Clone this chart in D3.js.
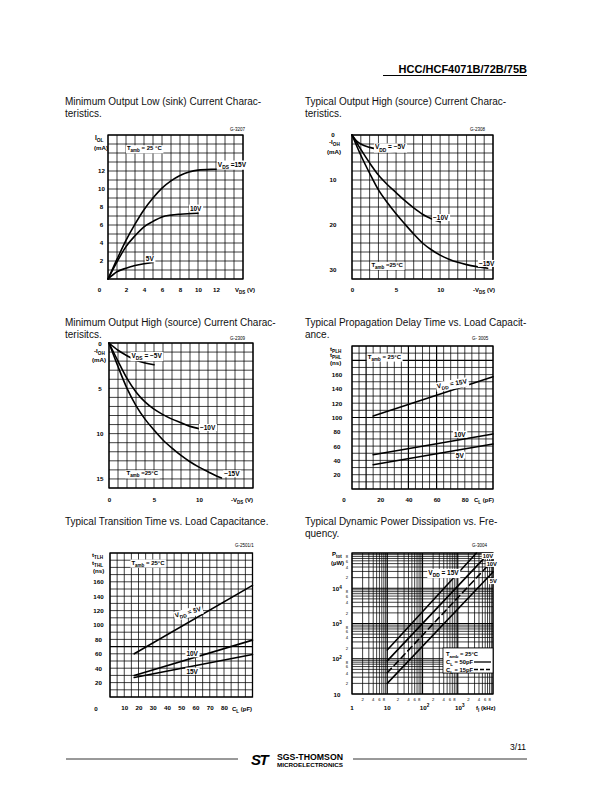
<!DOCTYPE html>
<html><head><meta charset="utf-8">
<script src="https://cdn.jsdelivr.net/npm/d3@7"></script>
<style>body{margin:0;background:#fff} svg{display:block}</style>
</head><body><svg id="page" width="612" height="792"></svg>
<script>
// ---------- DATA ----------
// Chart 1: Minimum output low (sink) current, IOL (mA) vs VDS (V)
const c1XTicks = [2, 4, 6, 8, 10, 12];
const c1YTicks = [2, 4, 6, 8, 10, 12];
const iol15V = [[0,0],[1,2.2],[2,4.3],[3,6.1],[4,7.7],[5,9.0],[6,10.1],[7,10.9],[8,11.5],[9,11.9],[10,12.1],[12,12.2],[15,12.3]];
const iol10V = [[0,0],[1,1.9],[2,3.6],[3,4.8],[4,5.8],[5,6.4],[6,6.9],[7,7.1],[8,7.2],[10,7.3]];
const iol5V  = [[0,0],[1,0.8],[2,1.2],[3,1.5],[4,1.7],[5,1.85]];

// Chart 2: Typical output high (source) current, -IOH (mA) vs -VDS (V)
const c2XTicks = [0, 5, 10];
const c2YTicks = [10, 20, 30];
const tioh5V  = [[0,0],[0.5,1.3],[1,2.0],[2,2.75],[3,3.2],[4,3.55],[5,3.8]];
const tioh10V = [[0,0],[1,3.2],[2,6.2],[3,8.9],[4,11],[5,12.8],[6,14.6],[7,16.2],[8,17.6],[9,18.6],[10,19.3]];
const tioh15V = [[0,0],[1,4.5],[2,8.5],[3,12.2],[4,15],[5,17.5],[6,19.8],[7,22],[8,24],[9,25.5],[10,26.7],[11,27.6],[12,28.3],[13,28.8],[14,29.2],[15.4,29.6]];

// Chart 3: Minimum output high (source) current, -IOH (mA) vs -VDS (V)
const c3XTicks = [0, 5, 10];
const c3YTicks = [5, 10, 15];
const mioh5V  = [[0,0],[1,0.8],[2,1.4],[3,1.9],[4,2.2],[5,2.4]];
const mioh10V = [[0,0],[1,2.0],[2,3.9],[3,5.4],[4,6.5],[5,7.3],[6,7.9],[7,8.4],[8,8.8],[9,9.2],[10,9.45]];
const mioh15V = [[0,0],[1,2.6],[2,5.0],[3,6.9],[4,8.4],[5,9.6],[6,10.7],[7,11.6],[8,12.4],[9,13.1],[10,13.7],[11,14.2],[12,14.7],[12.5,14.9]];

// Chart 4: Propagation delay tPLH/tPHL (ns) vs CL (pF)
const c4XTicks = [20, 40, 60, 80];
const c4YTicks = [20, 40, 60, 80, 100, 120, 140, 160];
const tpd15V = [[15,102],[100,157]];
const tpd10V = [[15,48],[100,77]];
const tpd5V  = [[15,34],[100,63]];

// Chart 5: Transition time tTLH/tTHL (ns) vs CL (pF)
const c5XTicks = [10, 20, 30, 40, 50, 60, 70, 80];
const c5YTicks = [20, 40, 60, 80, 100, 120, 140, 160];
const ttr5V  = [[17,60],[100,155]];
const ttr10V = [[17,30],[100,79]];
const ttr15V = [[17,27],[100,59]];

// Chart 6: Dynamic power dissipation Ptot (uW) vs fI (kHz), log-log
const c6XMajor = [1, 10, 100, 1000];
const c6XMajorLabels = ["1", "10", "10^{2}", "10^{3}"];
const c6YMajor = [10, 100, 1000, 10000];
const c6YMajorLabels = ["10", "10^{2}", "10^{3}", "10^{4}"];
const c6Minor = [2, 4, 6, 8];
const ptot15V50 = [[10,178],[3400,100000]];
const ptot10V50 = [[10,87],[6760,87000]];
const ptot15V15 = [[10,40],[8100,50000]];
const ptot5V50  = [[10,20],[10000,29000]];

// ---------- DRAWING ----------
const FONT = "'Liberation Sans', Arial, Helvetica, sans-serif";
const svg = d3.select("#page");

function rich(g, x, y, str, o = {}) {
  const size = o.size || 6.5;
  const t = g.append("text").attr("x", x).attr("y", y)
    .attr("font-size", size).attr("font-family", FONT)
    .attr("font-weight", o.weight || "bold")
    .attr("text-anchor", o.anchor || "start").attr("fill", "#000");
  if (o.rotate) t.attr("transform", `rotate(${o.rotate} ${x} ${y})`);
  const parts = str.split(/(_\{[^}]*\}|\^\{[^}]*\})/).filter(s => s.length);
  let shift = 0;
  parts.forEach(p => {
    let cls = 0, txt = p;
    if (p.startsWith("_{")) { cls = 1; txt = p.slice(2, -1); }
    else if (p.startsWith("^{")) { cls = -1; txt = p.slice(2, -1); }
    const target = cls * size * 0.35;
    const ts = t.append("tspan").attr("dy", (target - shift).toFixed(2)).text(txt);
    if (cls) ts.attr("font-size", size * 0.75);
    shift = target;
  });
  if (o.bg) {
    const b = t.node().getBBox();
    const r = g.insert("rect", () => t.node())
      .attr("x", b.x - 1).attr("y", b.y).attr("width", b.width + 2).attr("height", b.height)
      .attr("fill", "#fff");
    if (o.rotate) r.attr("transform", `rotate(${o.rotate} ${x} ${y})`);
  }
  return t;
}

function gridFrame(g, x, y, xs, ys, heavyX = [], heavyY = []) {
  const [x0, x1] = x.range(), [ya, yb] = y.range();
  const gl = g.append("g").attr("stroke", "#000").attr("fill", "none");
  gl.selectAll(".vx").data(xs).join("line")
    .attr("x1", d => x(d)).attr("x2", d => x(d)).attr("y1", ya).attr("y2", yb)
    .attr("stroke-width", d => heavyX.includes(d) ? 1.2 : 0.75);
  gl.selectAll(".hy").data(ys).join("line")
    .attr("y1", d => y(d)).attr("y2", d => y(d)).attr("x1", x0).attr("x2", x1)
    .attr("stroke-width", d => heavyY.includes(d) ? 1.2 : 0.75);
  g.append("rect").attr("x", Math.min(x0, x1)).attr("y", Math.min(ya, yb))
    .attr("width", Math.abs(x1 - x0)).attr("height", Math.abs(yb - ya))
    .attr("fill", "none").attr("stroke", "#000").attr("stroke-width", 1.3);
}

function curve(g, x, y, data, dash, smooth = true) {
  const line = d3.line().x(d => x(d[0])).y(d => y(d[1]))
    .curve(smooth ? d3.curveMonotoneX : d3.curveLinear);
  const p = g.append("path").datum(data).attr("d", line)
    .attr("fill", "none").attr("stroke", "#000").attr("stroke-width", 1.6)
    .attr("stroke-linecap", "round");
  if (dash) p.attr("stroke-dasharray", dash);
}

function yLabels(g, y, ticks, xPos, fmt = d => d) {
  const ax = d3.axisLeft(y).tickValues(ticks).tickSize(0).tickPadding(0).tickFormat(fmt);
  const a = g.append("g").attr("transform", `translate(${xPos},0)`).call(ax);
  a.select(".domain").remove();
  a.selectAll("text").attr("text-anchor", "middle").attr("font-size", 6.2)
    .attr("font-weight", "bold").attr("font-family", FONT).attr("x", 0);
}
function xLabels(g, x, ticks, yPos, fmt = d => d) {
  const ax = d3.axisBottom(x).tickValues(ticks).tickSize(0).tickPadding(0).tickFormat(fmt);
  const a = g.append("g").attr("transform", `translate(0,${yPos})`).call(ax);
  a.select(".domain").remove();
  a.selectAll("text").attr("font-size", 6.2).attr("font-weight", "bold")
    .attr("font-family", FONT).attr("dy", "0.35em").attr("y", 0);
}

function title(x, y, lines) {
  lines.forEach((l, i) => svg.append("text").attr("x", x).attr("y", y + i * 12)
    .attr("font-family", FONT).attr("font-size", 10).attr("fill", "#111").text(l));
}

// Header
svg.append("text").attr("x", 527).attr("y", 72.5).attr("text-anchor", "end")
  .attr("font-family", FONT).attr("font-weight", "bold").attr("font-size", 11)
  .text("HCC/HCF4071B/72B/75B");
svg.append("line").attr("x1", 383).attr("x2", 527).attr("y1", 75.5).attr("y2", 75.5)
  .attr("stroke", "#000").attr("stroke-width", 1.2);

// Titles
title(65, 105, ["Minimum Output Low (sink) Current Charac-", "teristics."]);
title(305, 105, ["Typical Output High (source) Current Charac-", "teristics."]);
title(65, 326, ["Minimum Output High (source) Current Charac-", "terisitcs."]);
title(305, 326, ["Typical Propagation Delay Time vs. Load Capacit-", "ance."]);
title(65, 524.5, ["Typical Transition Time vs. Load Capacitance."]);
title(305, 524.5, ["Typical Dynamic Power Dissipation vs. Fre-", "quency."]);

// ---- Chart 1 ----
{
  const g = svg.append("g");
  const x = d3.scaleLinear([0, 15], [108, 243]);
  const y = d3.scaleLinear([0, 16], [279, 135]);
  gridFrame(g, x, y, d3.range(0, 16, 1), d3.range(0, 17, 1));
  curve(g, x, y, iol15V); curve(g, x, y, iol10V); curve(g, x, y, iol5V);
  rich(g, x(12.2), y(12.5), "V_{DS} =15V", {bg: true});
  rich(g, x(9.1), y(7.6), "10V", {bg: true});
  rich(g, x(4.2), y(1.95), "5V", {bg: true});
  rich(g, x(2.1), y(14.3), "T_{amb} = 25 °C", {bg: true, size: 6});
  rich(g, 230, 131, "G-3207", {size: 4.5, weight: "normal"});
  yLabels(g, y, c1YTicks, 101.5);
  xLabels(g, x, c1XTicks, 289.5);
  rich(g, 99.5, 292, "0", {anchor: "middle", size: 6.2});
  rich(g, 235, 292, "V_{DS} (V)", {size: 6});
  rich(g, 95, 140, "I_{OL}", {size: 6.5});
  rich(g, 94, 150, "(mA)", {size: 6.2});
}

// ---- Chart 2 ----
{
  const g = svg.append("g");
  const x = d3.scaleLinear([0, 16], [352, 493]);
  const y = d3.scaleLinear([0, 32], [135, 279]);
  gridFrame(g, x, y, d3.range(0, 17, 1), d3.range(0, 33, 2));
  curve(g, x, y, tioh5V); curve(g, x, y, tioh10V); curve(g, x, y, tioh15V);
  rich(g, x(2.6), y(3.2), "V_{DD} = −5V", {bg: true});
  rich(g, x(9.2), y(18.9), "−10V", {bg: true});
  rich(g, x(14.4), y(29.1), "−15V", {bg: true});
  rich(g, x(2.2), y(29.3), "T_{amb} =25°C", {bg: true, size: 6});
  rich(g, 470, 131, "G-2308", {size: 4.5, weight: "normal"});
  rich(g, 333, 137, "0", {anchor: "middle", size: 6.2});
  rich(g, 329, 143.5, "-I_{OH}", {size: 6.2});
  rich(g, 327, 153.5, "(mA)", {size: 6.2});
  yLabels(g, y, c2YTicks, 333);
  xLabels(g, x, c2XTicks, 289.5);
  rich(g, 473, 292, "-V_{DS} (V)", {size: 6});
}

// ---- Chart 3 ----
{
  const g = svg.append("g");
  const x = d3.scaleLinear([0, 16], [109, 253]);
  const y = d3.scaleLinear([0, 16], [343, 488]);
  gridFrame(g, x, y, d3.range(0, 17, 1), d3.range(0, 17, 1));
  curve(g, x, y, mioh5V); curve(g, x, y, mioh10V); curve(g, x, y, mioh15V);
  rich(g, x(2.5), y(1.65), "V_{DS} = −5V", {bg: true});
  rich(g, x(10.1), y(9.6), "−10V", {bg: true});
  rich(g, x(12.8), y(14.7), "−15V", {bg: true});
  rich(g, x(1.95), y(14.6), "T_{amb} =25°C", {bg: true, size: 6});
  rich(g, 230, 339.5, "G-2309", {size: 4.5, weight: "normal"});
  rich(g, 100, 346, "0", {anchor: "middle", size: 6.2});
  rich(g, 94, 352.5, "-I_{OH}", {size: 6.2});
  rich(g, 92, 361.5, "(mA)", {size: 6.2});
  yLabels(g, y, c3YTicks, 100);
  xLabels(g, x, c3XTicks, 499.5);
  rich(g, 231, 502, "-V_{DS} (V)", {size: 6});
}

// ---- Chart 4 ----
{
  const g = svg.append("g");
  const x = d3.scaleLinear([0, 100], [352, 493]);
  const y = d3.scaleLinear([0, 200], [489, 346]);
  gridFrame(g, x, y, d3.range(0, 101, 5), d3.range(0, 201, 10), [10, 40, 60], [100, 180]);
  curve(g, x, y, tpd15V, null, false); curve(g, x, y, tpd10V, null, false); curve(g, x, y, tpd5V, null, false);
  rich(g, x(60.5), y(140.5), "V_{DD} = 15V", {bg: true, rotate: -10});
  rich(g, x(72.4), y(73), "10V", {bg: true});
  rich(g, x(73.6), y(44), "5V", {bg: true});
  rich(g, x(11.2), y(182.5), "T_{amb} = 25°C", {bg: true, size: 6});
  rich(g, 472, 340, "G- 3005", {size: 4.5, weight: "normal"});
  rich(g, 330, 350.5, "t_{PLH}", {size: 6.2});
  rich(g, 330, 357, "t_{PHL}", {size: 6.2});
  rich(g, 330, 365, "(ns)", {size: 6.2});
  yLabels(g, y, c4YTicks, 337);
  xLabels(g, x, c4XTicks, 499.5);
  rich(g, 344, 502, "0", {anchor: "middle", size: 6.2});
  rich(g, 474, 502, "C_{L} (pF)", {size: 6});
}

// ---- Chart 5 ----
{
  const g = svg.append("g");
  const x = d3.scaleLinear([0, 100], [110, 252.5]);
  const y = d3.scaleLinear([0, 200], [697, 553]);
  gridFrame(g, x, y, d3.range(0, 101, 5), d3.range(0, 201, 10), [], [70]);
  curve(g, x, y, ttr5V, null, false); curve(g, x, y, ttr10V, null, false); curve(g, x, y, ttr15V, null, false);
  rich(g, x(46), y(110), "V_{DD} = 5V", {bg: true, rotate: -15});
  rich(g, x(53.6), y(56.5), "10V", {bg: true});
  rich(g, x(53.6), y(32.5), "15V", {bg: true});
  rich(g, x(15), y(184), "T_{amb}  = 25°C", {bg: true, size: 6});
  rich(g, 235, 546.5, "G-2501/1", {size: 4.5, weight: "normal"});
  rich(g, 92, 557, "t_{TLH}", {size: 6.2});
  rich(g, 92, 564.5, "t_{THL}", {size: 6.2});
  rich(g, 93, 572.5, "(ns)", {size: 6.2});
  yLabels(g, y, c5YTicks, 98.5);
  xLabels(g, x, c5XTicks, 708);
  rich(g, 96, 710.5, "0", {anchor: "middle", size: 6.2});
  rich(g, 232, 710.5, "C_{L} (pF)", {size: 6});
}

// ---- Chart 6 ----
{
  const g = svg.append("g");
  const x = d3.scaleLog([1, 1e4], [352, 493]);
  const y = d3.scaleLog([10, 1e5], [694, 553]);
  const xs = [], ys = [];
  [1, 10, 100, 1000].forEach(d => { for (let k = 1; k < 10; k++) xs.push(d * k); });
  xs.push(1e4);
  [10, 100, 1000, 10000].forEach(d => { for (let k = 1; k < 10; k++) ys.push(d * k); });
  ys.push(1e5);
  gridFrame(g, x, y, xs, ys, [10, 100, 1000], [100, 1000, 10000]);
  curve(g, x, y, ptot15V50, null, false);
  curve(g, x, y, ptot10V50, null, false);
  curve(g, x, y, ptot15V15, "6,4", false);
  curve(g, x, y, ptot5V50, null, false);
  rich(g, x(146), y(24000), "V_{DD} = 15V", {bg: true});
  rich(g, x(5100), y(72000), "10V", {bg: true, size: 5.8});
  rich(g, x(6600), y(43000), "10V", {bg: true, size: 5.8});
  rich(g, x(8100), y(14000), "5V", {bg: true, size: 5.8});
  rich(g, 472, 547, "G-3004", {size: 4.5, weight: "normal"});
  // legend
  g.append("rect").attr("x", 443).attr("y", 648).attr("width", 50).attr("height", 25)
    .attr("fill", "#fff").attr("stroke", "#000").attr("stroke-width", 0.8);
  rich(g, 446, 656, "T_{amb} = 25°C", {size: 5.8});
  rich(g, 446, 664, "C_{L} = 50pF", {size: 5.8});
  rich(g, 446, 671.5, "C_{L} = 15pF", {size: 5.8});
  g.append("line").attr("x1", 474).attr("x2", 491).attr("y1", 662).attr("y2", 662)
    .attr("stroke", "#000").attr("stroke-width", 1.3);
  g.append("line").attr("x1", 474).attr("x2", 491).attr("y1", 669.5).attr("y2", 669.5)
    .attr("stroke", "#000").attr("stroke-width", 1.3).attr("stroke-dasharray", "4,2");
  // y labels
  c6YMajor.forEach((v, i) => rich(g, 337, y(v) + 2.5, c6YMajorLabels[i], {anchor: "middle", size: 6.2}));
  c6YMajor.forEach(v => c6Minor.forEach(k => rich(g, 347, y(v * k) + 1.8, String(k), {anchor: "middle", size: 4.2, weight: "normal"})));
  rich(g, 332, 556, "P_{tot}", {size: 6});
  rich(g, 331, 564.5, "(µW)", {size: 6});
  // x labels
  c6XMajor.forEach((v, i) => rich(g, x(v) + (i > 1 ? 2 : 0), 709.5, c6XMajorLabels[i], {anchor: "middle", size: 6.2}));
  c6XMajor.forEach(v => c6Minor.forEach(k => rich(g, x(v * k), 701, String(k), {anchor: "middle", size: 4.2, weight: "normal"})));
  rich(g, 476, 709.5, "f_{I}  (kHz)", {size: 6});
}

// Footer
svg.append("line").attr("x1", 66).attr("x2", 238).attr("y1", 759).attr("y2", 759)
  .attr("stroke", "#000").attr("stroke-width", 0.8);
svg.append("line").attr("x1", 353).attr("x2", 527).attr("y1", 759).attr("y2", 759)
  .attr("stroke", "#000").attr("stroke-width", 0.8);
svg.append("text").attr("x", 251).attr("y", 765).attr("font-family", FONT)
  .attr("font-weight", "900").attr("font-style", "italic").attr("font-size", 15)
  .attr("letter-spacing", -1.5).text("ST");
svg.append("text").attr("x", 277).attr("y", 759.5).attr("font-family", FONT)
  .attr("font-weight", "bold").attr("font-size", 8.5).attr("textLength", 66)
  .attr("lengthAdjust", "spacingAndGlyphs").text("SGS-THOMSON");
svg.append("text").attr("x", 277).attr("y", 767).attr("font-family", FONT)
  .attr("font-weight", "bold").attr("font-size", 5).attr("textLength", 66)
  .attr("lengthAdjust", "spacingAndGlyphs").text("MICROELECTRONICS");
svg.append("text").attr("x", 526).attr("y", 750).attr("text-anchor", "end")
  .attr("font-family", FONT).attr("font-size", 8.5).text("3/11");
</script>
</body></html>
